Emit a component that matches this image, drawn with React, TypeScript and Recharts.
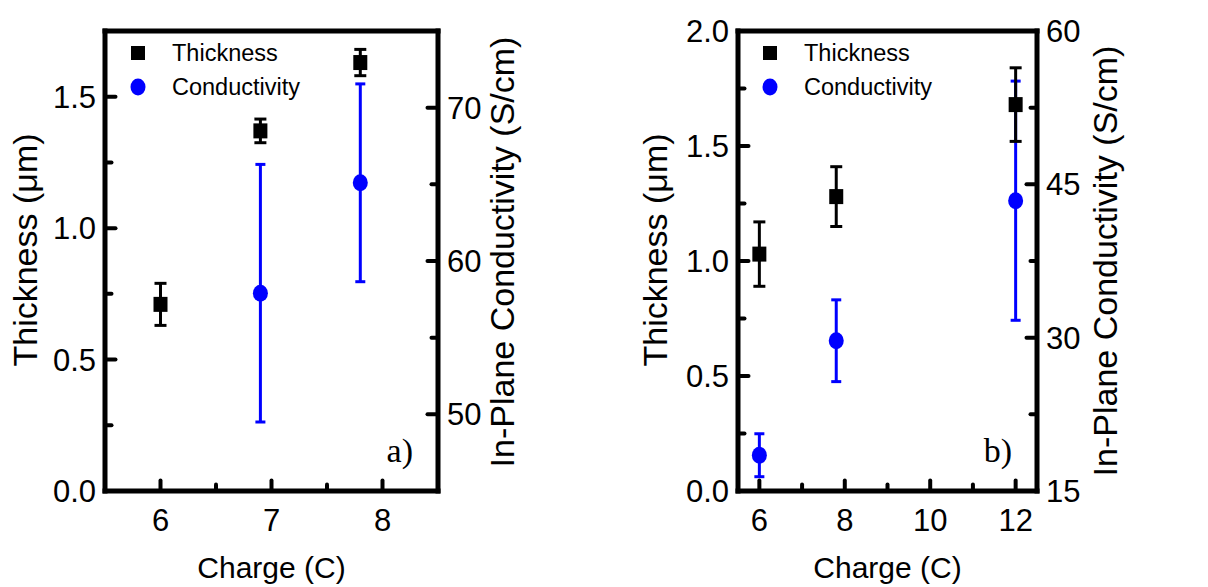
import React from 'react';
import { ScatterChart, Scatter, XAxis, YAxis, ErrorBar, Legend, ReferenceLine, Customized } from 'recharts';

// ---- Panel a data ----
const chargeA = [6, 6.9, 7.8];
const thicknessA = [0.71, 1.37, 1.63];
const thicknessErrA = [0.08, 0.045, 0.05];
const chargeCondA = [6.9, 7.8];
const conductivityA = [57.9, 65.1];
const conductivityErrA = [8.4, 6.45];

// ---- Panel b data ----
const chargeB = [6, 7.8, 12];
const thicknessB = [1.03, 1.28, 1.68];
const thicknessErrB = [0.14, 0.13, 0.16];
const conductivityB = [18.5, 29.7, 43.4];
const conductivityErrB = [2.1, 4.0, 11.7];

// ---- ticks ----
const xTicksA = [6, 6.5, 7, 7.5, 8];
const xMajorA = [6, 7, 8];
const leftTicksA = [0, 0.25, 0.5, 0.75, 1.0, 1.25, 1.5];
const leftMajorA = [0, 0.5, 1.0, 1.5];
const rightTicksA = [50, 55, 60, 65, 70];
const rightMajorA = [50, 60, 70];

const xTicksB = [6, 7, 8, 9, 10, 11, 12];
const xMajorB = [6, 8, 10, 12];
const leftTicksB = [0, 0.25, 0.5, 0.75, 1.0, 1.25, 1.5, 1.75, 2.0];
const leftMajorB = [0, 0.5, 1.0, 1.5, 2.0];
const rightTicksB = [15, 22.5, 30, 37.5, 45, 52.5, 60];
const rightMajorB = [15, 30, 45, 60];

const FONT = '"Liberation Sans", Arial, sans-serif';
const BLUE = '#0000ff';
const AXIS_W = 5;
const TICK_FS = 31;

const toPoints = (xs: number[], ys: number[], es: number[]) =>
  xs.map((x, i) => ({ x, y: ys[i], err: es[i] }));

const makeTick = (side: 'left' | 'right' | 'bottom', major: number[], fmt: (v: number) => string) =>
  (props: any) => {
    const x = Number(props.x);
    const y = Number(props.y);
    const v = props.payload.value;
    const isMajor = major.some((m) => Math.abs(m - v) < 1e-9);
    const len = isMajor ? 10.5 : 6.5;
    let line;
    let label = null;
    if (side === 'left') {
      line = <line x1={x} x2={x + len} y1={y} y2={y} stroke="#000" strokeWidth={4} strokeLinecap="round" />;
      if (isMajor)
        label = <text x={x - 9} y={y + 11} textAnchor="end" fontSize={TICK_FS} fontFamily={FONT} fill="#000">{fmt(v)}</text>;
    } else if (side === 'right') {
      line = <line x1={x} x2={x - len} y1={y} y2={y} stroke="#000" strokeWidth={4} strokeLinecap="round" />;
      if (isMajor)
        label = <text x={x + 9} y={y + 11} textAnchor="start" fontSize={TICK_FS} fontFamily={FONT} fill="#000">{fmt(v)}</text>;
    } else {
      line = <line x1={x} x2={x} y1={y} y2={y - len} stroke="#000" strokeWidth={4} strokeLinecap="round" />;
      if (isMajor)
        label = <text x={x} y={y + 40} textAnchor="middle" fontSize={TICK_FS} fontFamily={FONT} fill="#000">{fmt(v)}</text>;
    }
    return (
      <g>
        {line}
        {label}
      </g>
    );
  };

const SquareShape = (p: any) => <rect x={p.cx - 7} y={p.cy - 7.5} width={14} height={15} fill="#000" />;
const CircleShape = (p: any) => <ellipse cx={p.cx} cy={p.cy} rx={7.5} ry={8.5} fill={BLUE} />;

const LegendBox = () => (
  <div style={{ fontFamily: FONT, fontSize: 23.5, color: '#000', lineHeight: '34px' }}>
    <div style={{ display: 'flex', alignItems: 'center', height: 34 }}>
      <svg width={44} height={34}>
        <rect x={3} y={10} width={14} height={14} fill="#000" />
      </svg>
      <span>Thickness</span>
    </div>
    <div style={{ display: 'flex', alignItems: 'center', height: 34 }}>
      <svg width={44} height={34}>
        <ellipse cx={10} cy={17} rx={7.5} ry={8.5} fill={BLUE} />
      </svg>
      <span>Conductivity</span>
    </div>
  </div>
);

const yTitle = (text: string, dxFromAxis: number, side: 'left' | 'right', dy: number) => (props: any) => {
  const vb = props.viewBox;
  const axisX = side === 'left' ? vb.x + vb.width : vb.x;
  const cx = side === 'left' ? axisX - dxFromAxis : axisX + dxFromAxis;
  const cy = vb.y + vb.height / 2 + dy;
  return (
    <text
      x={cx}
      y={cy}
      transform={`rotate(-90 ${cx} ${cy})`}
      textAnchor="middle"
      fontSize={34}
      fontFamily={FONT}
      fill="#000"
    >
      {text}
    </text>
  );
};

const xTitle = (props: any) => {
  const vb = props.viewBox;
  return (
    <text x={vb.x + vb.width / 2} y={vb.y + 87} textAnchor="middle" fontSize={30} fontFamily={FONT} fill="#000">
      Charge (C)
    </text>
  );
};

type PanelProps = {
  width: number;
  leftW: number;
  rightW: number;
  xDomain: [number, number];
  leftDomain: [number, number];
  rightDomain: [number, number];
  xTicks: number[];
  xMajor: number[];
  leftTicks: number[];
  leftMajor: number[];
  rightTicks: number[];
  rightMajor: number[];
  thick: { x: number; y: number; err: number }[];
  cond: { x: number; y: number; err: number }[];
  tag: string;
  legendLeft: number;
  leftTitleDx: number;
  rightTitleDx: number;
  leftTitleDy: number;
  rightTitleDy: number;
};

const Panel = (p: PanelProps) => {
  const axisLine = { stroke: '#000', strokeWidth: AXIS_W, strokeLinecap: 'square' as const };
  return (
    <ScatterChart width={p.width} height={587} margin={{ top: 31, right: 0, bottom: 0, left: 0 }}>
      <ReferenceLine yAxisId="left" y={p.leftDomain[1]} stroke="#000" strokeWidth={AXIS_W} strokeLinecap="square" ifOverflow="visible" />
      <XAxis
        type="number"
        dataKey="x"
        domain={p.xDomain}
        ticks={p.xTicks}
        allowDataOverflow
        height={96}
        tickSize={0}
        tickMargin={0}
        tickLine={false}
        axisLine={axisLine}
        tick={makeTick('bottom', p.xMajor, (v) => String(v))}
        interval={0}
        label={{ content: xTitle }}
      />
      <YAxis
        yAxisId="left"
        type="number"
        dataKey="y"
        domain={p.leftDomain}
        ticks={p.leftTicks}
        allowDataOverflow
        width={p.leftW}
        tickSize={0}
        tickMargin={0}
        tickLine={false}
        axisLine={axisLine}
        tick={makeTick('left', p.leftMajor, (v) => v.toFixed(1))}
        interval={0}
        label={{ content: yTitle('Thickness (\u03bcm)', p.leftTitleDx, 'left', p.leftTitleDy) }}
      />
      <YAxis
        yAxisId="right"
        orientation="right"
        type="number"
        dataKey="y"
        domain={p.rightDomain}
        ticks={p.rightTicks}
        allowDataOverflow
        width={p.rightW}
        tickSize={0}
        tickMargin={0}
        tickLine={false}
        axisLine={axisLine}
        tick={makeTick('right', p.rightMajor, (v) => String(v))}
        interval={0}
        label={{ content: yTitle('In-Plane Conductivity (S/cm)', p.rightTitleDx, 'right', p.rightTitleDy) }}
      />
      <Scatter yAxisId="right" data={p.cond} shape={CircleShape} isAnimationActive={false} name="Conductivity">
        <ErrorBar dataKey="err" direction="y" width={5} stroke={BLUE} strokeWidth={3} />
      </Scatter>
      <Scatter yAxisId="left" data={p.thick} shape={SquareShape} isAnimationActive={false} name="Thickness">
        <ErrorBar dataKey="err" direction="y" width={6} stroke="#000" strokeWidth={3} />
      </Scatter>
      <Legend
        layout="vertical"
        align="center"
        verticalAlign="middle"
        content={LegendBox}
        wrapperStyle={{ position: 'absolute', left: p.legendLeft, top: 36, width: 'auto', height: 'auto' }}
      />
      <Customized
        component={() => (
          <text x={p.width - p.rightW - 25} y={462} textAnchor="end" fontSize={34} fontFamily='"Liberation Serif", "Times New Roman", serif' fill="#000">
            {p.tag}
          </text>
        )}
      />
    </ScatterChart>
  );
};

export default function App() {
  return (
    <div style={{ position: 'absolute', left: 0, top: 0, width: 1208, height: 587, background: '#fff' }}>
      <div style={{ position: 'absolute', left: 0, top: 0 }}>
        <Panel
          width={560}
          leftW={105}
          rightW={122}
          xDomain={[5.5, 8.5]}
          leftDomain={[0, 1.75]}
          rightDomain={[45, 75]}
          xTicks={xTicksA}
          xMajor={xMajorA}
          leftTicks={leftTicksA}
          leftMajor={leftMajorA}
          rightTicks={rightTicksA}
          rightMajor={rightMajorA}
          thick={toPoints(chargeA, thicknessA, thicknessErrA)}
          cond={toPoints(chargeCondA, conductivityA, conductivityErrA)}
          tag="a)"
          legendLeft={128}
          leftTitleDx={68}
          rightTitleDx={76}
          leftTitleDy={-11}
          rightTitleDy={-9}
        />
      </div>
      <div style={{ position: 'absolute', left: 560, top: 0 }}>
        <Panel
          width={648}
          leftW={178}
          rightW={171}
          xDomain={[5.5, 12.5]}
          leftDomain={[0, 2]}
          rightDomain={[15, 60]}
          xTicks={xTicksB}
          xMajor={xMajorB}
          leftTicks={leftTicksB}
          leftMajor={leftMajorB}
          rightTicks={rightTicksB}
          rightMajor={rightMajorB}
          thick={toPoints(chargeB, thicknessB, thicknessErrB)}
          cond={toPoints(chargeB, conductivityB, conductivityErrB)}
          tag="b)"
          legendLeft={200}
          leftTitleDx={71}
          rightTitleDx={80}
          leftTitleDy={-11}
          rightTitleDy={0}
        />
      </div>
    </div>
  );
}
